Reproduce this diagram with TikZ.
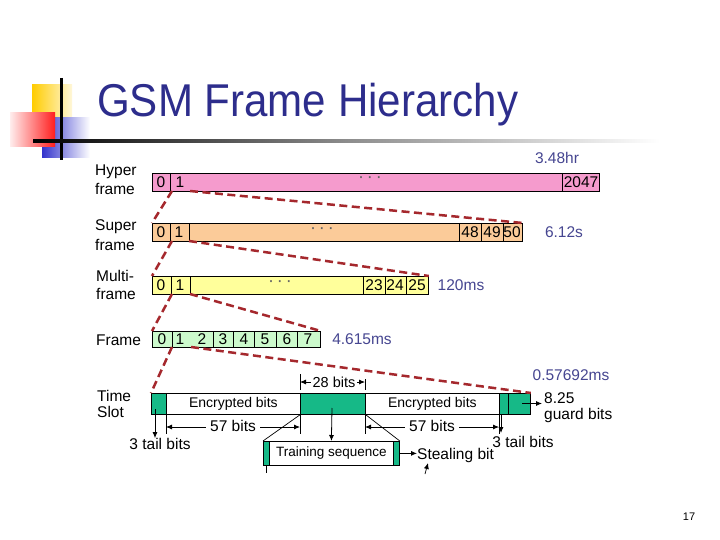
\documentclass[tikz,border=0pt]{standalone}
\usepackage{graphicx}
\usepackage{fontspec}
\setmainfont{Liberation Sans}
\usetikzlibrary{arrows.meta}
\definecolor{hyperc}{RGB}{245,155,205}
\definecolor{superc}{RGB}{251,203,153}
\definecolor{multic}{RGB}{255,255,155}
\definecolor{framec}{RGB}{204,250,204}
\definecolor{slotc}{RGB}{22,185,135}
\definecolor{dashred}{RGB}{165,40,45}
\definecolor{timec}{RGB}{70,70,145}
\definecolor{titlec}{RGB}{45,45,140}
\definecolor{decoY}{RGB}{255,204,0}
\definecolor{decoR}{RGB}{255,30,30}
\definecolor{decoB}{RGB}{51,51,204}
\tikzset{
  bar/.style={draw, line width=0.8pt, anchor=north west, inner sep=0pt},
  seg/.style={draw, line width=0.8pt, anchor=north west, inner sep=0pt, minimum height=21pt, font=\fontsize{14}{16}\selectfont},
  lab/.style={inner sep=0pt, font=\fontsize{15.5}{17}\selectfont},
  num/.style={inner sep=0pt, font=\fontsize{15.5}{17}\selectfont},
  tlab/.style={inner sep=0pt, text=timec, font=\fontsize{15.5}{17}\selectfont},
  dots/.style={inner sep=0pt, text=black!60, font=\fontsize{18}{18}\selectfont},
  dashline/.style={draw=dashred, line width=2.5pt, dash pattern=on 8pt off 4.5pt},
  arr/.style={-{Latex[length=6pt,width=5pt]}, line width=0.8pt},
  dim/.style={{Latex[length=6pt,width=5pt]}-{Latex[length=6pt,width=5pt]}, line width=0.8pt},
  thin/.style={line width=0.7pt},
}
\begin{document}
\begin{tikzpicture}[x=1pt,y=-1pt]
\useasboundingbox (0,0) rectangle (720,540);
\fill[white] (0,0) rectangle (720,540);

% ---- title decoration
\shade[left color=decoY, right color=decoY!15] (32,85) rectangle (72,118);
\shade[left color=decoB, right color=white] (42,118) rectangle (90,158);
\shade[left color=decoR!8, right color=decoR] (10,113) rectangle (55,147);
\draw[line width=3pt] (61,78) -- (61,160);
\shade[left color=black, right color=white, middle color=black!45] (33,139.5) rectangle (660,142.5);
\node[anchor=base west, inner sep=0pt, text=titlec, font=\fontsize{46}{50}\selectfont] (title) at (97,117) {\scalebox{0.915}[1]{GSM Frame Hierarchy}};

% ---- row labels
\node[lab, anchor=west] (lh1) at (95,172) {Hyper};
\node[lab, anchor=west] (lh2) at (95,189) {frame};
\node[lab, anchor=west] (ls1) at (95,227) {Super};
\node[lab, anchor=west] (ls2) at (95,245) {frame};
\node[lab, anchor=west] (lm1) at (96,276) {Multi-};
\node[lab, anchor=west] (lm2) at (96,294) {frame};
\node[lab, anchor=west] (lf) at (96,340) {Frame};
\node[lab, anchor=west] (lt1) at (97,396) {Time};
\node[lab, anchor=west] (lt2) at (97,412) {Slot};

% ---- hyper frame
\node[bar, fill=hyperc, minimum width=447pt, minimum height=18pt] (hyper) at (152,173) {};
\draw[thin] (170,173) -- (170,191) (562,173) -- (562,191);
\node[num] (h0) at (161,182) {0};
\node[num] (h1) at (180,182) {1};
\node[dots] (hd) at (370,180) {·\,·\,·};
\node[num] (h2047) at (581,182) {2047};
\node[tlab] (t1) at (557,158) {3.48hr};

% ---- super frame
\node[bar, fill=superc, minimum width=370pt, minimum height=18pt] (super) at (152,223) {};
\draw[thin] (170,223) -- (170,241) (189,223) -- (189,241) (459,223) -- (459,241) (481,223) -- (481,241) (503,223) -- (503,241);
\node[num] (s0) at (161,232) {0};
\node[num] (s1) at (179,232) {1};
\node[dots] (sd) at (322,231) {·\,·\,·};
\node[num] (s48) at (470,232) {48};
\node[num] (s49) at (492,232) {49};
\node[num] (s50) at (512,232) {50};
\node[tlab] (t2) at (564,232) {6.12s};

% ---- multiframe
\node[bar, fill=multic, minimum width=276pt, minimum height=18pt] (multi) at (152,276) {};
\draw[thin] (171,276) -- (171,294) (190,276) -- (190,294) (363,276) -- (363,294) (385,276) -- (385,294) (406,276) -- (406,294);
\node[num] (m0) at (161,285) {0};
\node[num] (m1) at (180,285) {1};
\node[dots] (md) at (280,284) {·\,·\,·};
\node[num] (m23) at (374,285) {23};
\node[num] (m24) at (395,285) {24};
\node[num] (m25) at (417,285) {25};
\node[tlab] (t3) at (461,285) {120ms};

% ---- frame
\node[bar, fill=framec, minimum width=168pt, minimum height=16pt] (frame) at (152,331) {};
\draw[thin] (172,331) -- (172,347) (213,331) -- (213,347) (233,331) -- (233,347) (254,331) -- (254,347) (276,331) -- (276,347) (297,331) -- (297,347);
\node[num] (f0) at (162,339) {0};
\node[num] (f1) at (180,339) {1};
\node[num] (f2) at (202,339) {2};
\node[num] (f3) at (223,339) {3};
\node[num] (f4) at (244,339) {4};
\node[num] (f5) at (265,339) {5};
\node[num] (f6) at (287,339) {6};
\node[num] (f7) at (308,339) {7};
\node[tlab] (t4) at (362,339) {4.615ms};

% ---- time slot
\node[seg, fill=slotc, minimum width=15pt] (tl) at (151,393) {};
\node[seg, fill=white, minimum width=134pt] (enc1) at (166,393) {Encrypted bits};
\node[seg, fill=slotc, minimum width=65pt] (trn) at (300,393) {};
\node[seg, fill=white, minimum width=134pt] (enc2) at (365,393) {Encrypted bits};
\node[seg, fill=slotc, minimum width=9pt] (tr) at (499,393) {};
\node[seg, fill=slotc, minimum width=22pt] (grd) at (508,393) {};
\node[tlab] (t5) at (571,375) {0.57692ms};

% 28 bits
\draw[thin] (300,374) -- (300,390) (365,379) -- (365,390);
\draw[dim] (300,382) -- (365,382);
\node[lab, fill=white, inner xsep=2pt, font=\fontsize{14.5}{16}\selectfont] (b28) at (334,382) {28 bits};

% 57 bits
\draw[thin] (166,414) -- (166,434) (300,414) -- (300,434);
\draw[dim] (166,427) -- (300,427);
\node[lab, fill=white, inner xsep=4pt] (b57a) at (233,426) {57 bits};
\draw[thin] (365,414) -- (365,434) (499,414) -- (499,434);
\draw[dim] (365,427) -- (499,427);
\node[lab, fill=white, inner xsep=4pt] (b57b) at (432,426) {57 bits};

% tail bits
\node[lab] (tail1) at (160,444) {3 tail bits};
\coordinate (tail1a) at (155,409);
\draw[arr] (tail1a) -- (tail1a |- tail1.north);
\node[lab] (tail2) at (523,442) {3 tail bits};
\coordinate (tail2a) at (501,414);
\draw[arr] (tail2a) -- (501,433);

% guard bits
\node[lab, anchor=west] (g1) at (544,398) {8.25};
\node[lab, anchor=west] (g2) at (544,415) {guard bits};
\coordinate (garr) at (522,403.5);
\draw[arr] (garr) -- (542,403.5);

% training sequence
\node[seg, fill=white, minimum width=136pt, minimum height=24pt, font=\fontsize{13.5}{15}\selectfont] (train) at (263,441) {Training sequence};
\draw[fill=slotc, line width=0.8pt] (263,441) rectangle (269,465);
\draw[fill=slotc, line width=0.8pt] (393,441) rectangle (399,465);
\draw[thin] (trn.south west) -- (train.north west);
\draw[thin] (trn.south east) -- (train.north east);
\draw[arr] (332,408) -- (train.north);
\draw[thin] (266,465) -- (266,473);
\node[lab, anchor=west] (steal) at (417,455) {Stealing bit};
\draw[arr] (train.east) -- (steal.west |- train.east);
\coordinate (sarr) at (425,474);
\draw[arr, line width=0.7pt] (sarr) -- (428,463);

% ---- red dashed zoom lines
\coordinate (h1l) at (172,191); \coordinate (h1r) at (190,191);
\coordinate (s1l) at (172,241); \coordinate (s1r) at (189,241);
\coordinate (m1l) at (172,294); \coordinate (m1r) at (190,294);
\coordinate (f1l) at (172,347); \coordinate (f1r) at (191,347);
\draw[dashline] (h1l) -- (super.north west);
\draw[dashline] (h1r) -- (super.north east);
\draw[dashline] (s1l) -- (multi.north west);
\draw[dashline] (s1r) -- (multi.north east);
\draw[dashline] (m1l) -- (frame.north west);
\draw[dashline] (m1r) -- (frame.north east);
\draw[dashline] (f1l) -- (tl.north west);
\draw[dashline] (f1r) -- (grd.north east);

% page number
\node[inner sep=0pt, font=\fontsize{11}{12}\selectfont] (pg) at (689,517) {17};
\end{tikzpicture}
\end{document}
